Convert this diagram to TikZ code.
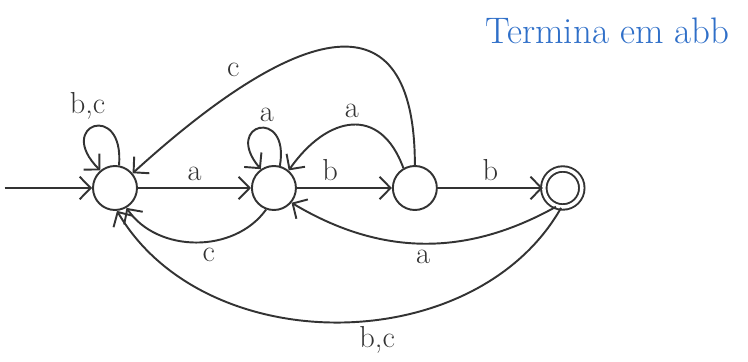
\documentclass[tikz,border=0pt]{standalone}
\usepackage{tikz}
\usetikzlibrary{arrows.meta, positioning}
\usepackage{xcolor}
\definecolor{ink}{HTML}{333333}
\definecolor{penblue}{HTML}{2F6FC8}

\begin{document}
\begin{tikzpicture}[
    state/.style={draw=ink, circle, minimum size=0.88cm, line width=1.1pt},
    final/.style={state, minimum size=0.76cm, double=white, double distance=2pt},
    arr/.style={-{Straight Barb[length=2.2mm, width=4.5mm]}, line width=1.1pt, draw=ink, text=ink, font=\LARGE},
    node distance=2.1cm
]
\useasboundingbox (0,0) rectangle (14.96,7.22);
\node[state] (q0) at (2.3,3.46) {};
\node[state, right=2.26cm of q0] (q1) {};
\node[state, right=1.9cm of q1] (q2) {};
\node[final, right=2.1cm of q2] (q3) {};
\coordinate[left=1.75cm of q0] (start);
\node[text=penblue, font=\fontsize{21}{24}\selectfont] (title) at (12.15,6.6) {Termina em abb};

\draw[arr] (start) -- (q0);
\draw[arr] (q0.80) .. controls +(85:1.3) and +(135:1.3) .. node[above, xshift=-4pt]{b,c} (q0.130);
\draw[arr] (q0) -- node[above]{a} (q1);
\draw[arr] (q1.75) .. controls +(80:1.2) and +(130:1.2) .. node[above, xshift=4pt]{a} (q1.125);
\draw[arr] (q1) -- node[above, pos=0.35]{b} (q2);
\draw[arr] (q2) -- node[above]{b} (q3);
\draw[arr] (q2.120) to[out=110, in=55, looseness=1.5] node[above]{a} (q1.50);
\draw[arr] (q2.90) .. controls +(0,3.5) and +(3.3,3.0) .. node[pos=0.75, above left]{c} (q0.40);
\draw[arr] (q1.250) to[bend left=55] node[below, pos=0.42]{c} (q0.300);
\draw[arr] (q3.250) to[bend left=30] node[below]{a} (q1.320);
\draw[arr] (q3.265) to[bend left=60] node[below, pos=0.43]{b,c} (q0.275);
\end{tikzpicture}
\end{document}
